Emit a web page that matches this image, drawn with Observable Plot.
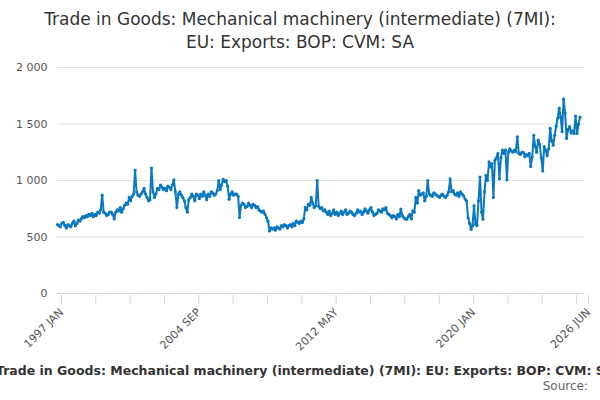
<!DOCTYPE html>
<html><head><meta charset="utf-8">
<script src="https://cdn.jsdelivr.net/npm/d3@7"></script>
<script src="https://cdn.jsdelivr.net/npm/@observablehq/plot@0.6"></script>
<style>
body{margin:0;width:600px;height:400px;overflow:hidden;font-family:"DejaVu Sans",sans-serif;background:#fff}
#title{text-align:center;font-size:17px;line-height:23px;color:#333;padding-top:8px;height:47px}
#legend{display:flex;justify-content:center;white-space:nowrap;font-size:12.5px;font-weight:bold;color:#333;margin-top:8px;width:600px;overflow:hidden}
#source{text-align:right;font-size:12px;color:#666;padding-right:12px;margin-top:1px}
</style></head><body>
<div id="title">Trade in Goods: Mechanical machinery (intermediate) (7MI):<br>EU: Exports: BOP: CVM: SA</div>
<div id="chart"></div>
<div id="legend"><span><span style="color:#0a78c0">–</span> Trade in Goods: Mechanical machinery (intermediate) (7MI): EU: Exports: BOP: CVM: SA</span></div>
<div id="source">Source:</div>
<script>
const startYear = 1997;
const values = [
610,600,590,620,630,600,580,610,600,590,620,640,
600,620,650,640,660,680,670,690,680,700,690,710,
680,700,690,720,710,740,870,720,710,690,700,720,
720,700,660,720,740,730,760,720,750,780,800,790,
850,820,860,880,1090,900,870,860,880,900,930,880,
850,820,830,1110,900,850,880,930,920,960,940,920,
930,910,950,940,920,960,1005,900,760,880,900,870,
850,820,760,720,830,850,880,860,820,880,870,840,
880,860,900,870,830,880,860,900,890,870,880,910,
1000,920,960,1010,990,1000,950,835,880,900,870,880,
880,860,672,780,800,790,760,770,800,780,760,790,
780,760,770,740,730,720,730,700,670,640,554,580,
570,580,560,590,580,570,600,590,610,600,580,600,
610,590,620,600,640,630,620,640,628,660,762,740,
790,780,850,800,760,777,1000,770,750,760,732,740,
720,700,730,690,710,740,700,720,690,710,730,700,
720,740,700,710,730,720,700,690,710,740,720,730,
700,720,750,730,710,740,760,720,690,700,710,740,
730,720,750,740,760,710,700,690,670,690,680,660,
700,680,747,690,670,660,658,680,700,660,732,720,
850,800,910,870,880,890,820,860,1000,880,870,860,
890,880,870,860,850,870,880,860,850,870,900,1015,
900,910,880,870,890,860,900,880,866,836,820,672,
620,568,600,777,613,600,820,1030,720,658,900,1045,
1000,1164,1120,1150,850,1180,1200,1238,1015,1200,1268,1240,
1268,1006,1250,1280,1260,1250,1270,1255,1387,1240,1230,1250,
1250,1210,1230,1220,1240,1125,1210,1400,1300,1250,1357,1320,
1200,1083,1300,1268,1220,1280,1461,1350,1312,1400,1480,1550,
1640,1560,1432,1720,1600,1372,1450,1476,1420,1440,1417,1571,
1417,1500,1560];
const yTicks = [0,500,1000,1500,2000];
const months = ["JAN","FEB","MAR","APR","MAY","JUN","JUL","AUG","SEP","OCT","NOV","DEC"];
const data = values.map((v,i)=>({date:new Date(startYear, i, 1), v}));
const endDate = new Date(2026,5,1);
const ticks = d3.range(0,17).map(k=>new Date(startYear, k*23, 1)).filter(d=>d<endDate);
ticks.push(endDate);
const labelled = [0,4,8,12].map(k=>+new Date(startYear,k*23,1)).concat([+endDate]);
const fmt = d => labelled.includes(+d) ? `${d.getFullYear()} ${months[d.getMonth()]}` : "";
const chart = Plot.plot({
  width:600, height:300, marginTop:12, marginBottom:62, marginLeft:57, marginRight:16,
  style:{fontFamily:"DejaVu Sans, sans-serif", fontSize:"11px", color:"#555"},
  x:{type:"utc", domain:[new Date(startYear,0,1), endDate]},
  y:{domain:[0,2000]},
  marks:[
    Plot.gridY(yTicks,{stroke:"#e0e0e0", strokeOpacity:1}),
    Plot.axisY(yTicks,{tickSize:0, tickPadding:10, tickFormat:d=>d3.format(",")(d).replace(",", " "), label:null, fill:"#555"}),
    Plot.ruleY([0],{stroke:"#ccd6eb"}),
    Plot.axisX(ticks,{tickSize:9, stroke:"#ccd6eb", tickRotate:-45, tickFormat:fmt, label:null, fill:"#555", fontSize:11, textAnchor:"end", dx:4, dy:2}),
    Plot.line(data,{x:"date", y:"v", stroke:"#0a78c0", strokeWidth:2}),
    Plot.dot(data,{x:"date", y:"v", fill:"#0a78c0", r:1.6})
  ]
});
document.getElementById("chart").appendChild(chart);
</script>
</body></html>
